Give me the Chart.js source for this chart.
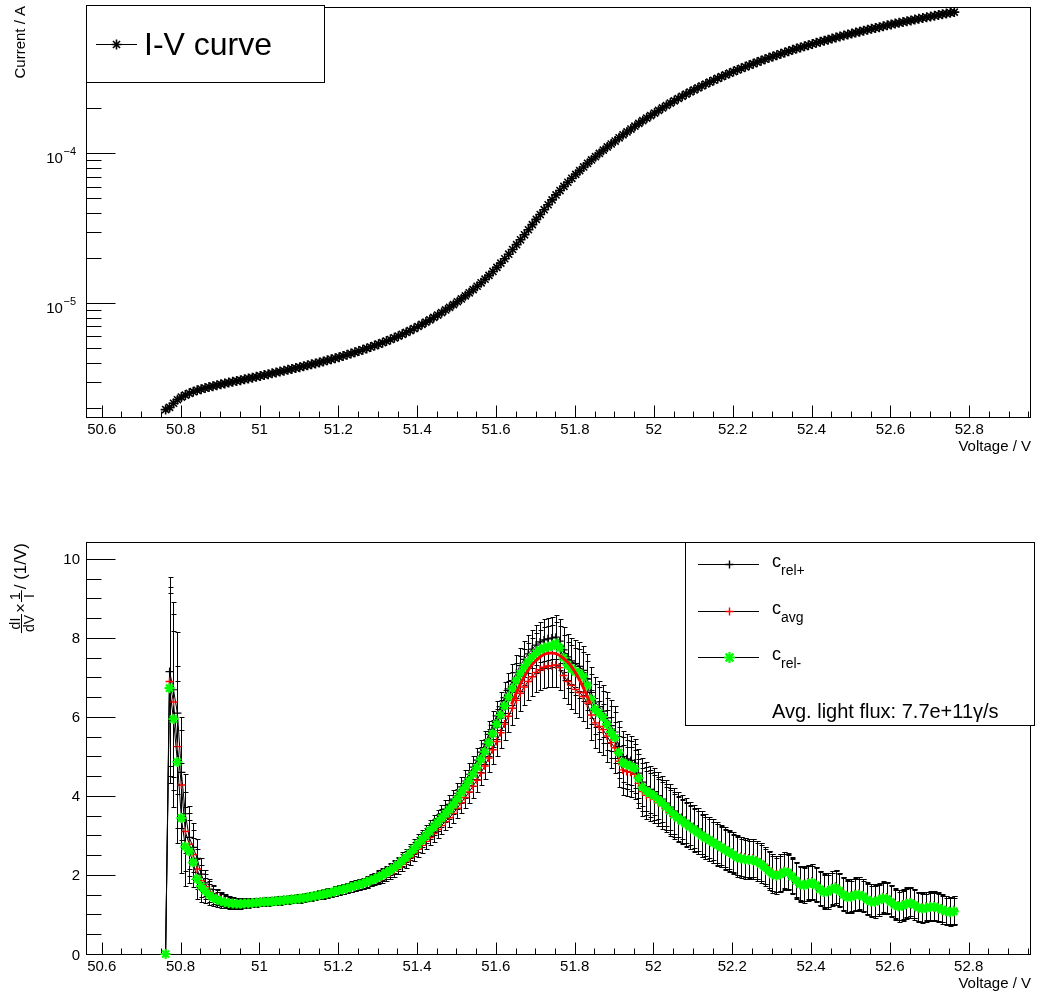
<!DOCTYPE html>
<html>
<head>
<meta charset="utf-8">
<script src="https://cdn.jsdelivr.net/npm/chart.js@4.4.1/dist/chart.umd.min.js"></script>
<style>
  html, body { margin: 0; padding: 0; background: #fff; }
  #wrap { position: relative; width: 1037px; height: 995px; }
  canvas { position: absolute; left: 0; }
  #ivChart { top: 0; }
  #cChart { top: 470px; }
</style>
</head>
<body>
<div id="wrap">
  <canvas id="ivChart" width="1037" height="470"></canvas>
  <canvas id="cChart" width="1037" height="525"></canvas>
</div>
<script>
// ---- measured scan: bias voltage (V) ----
const voltage = [
  50.762,50.772,50.782,50.792,50.802,50.812,50.822,50.832,50.842,50.852,
  50.862,50.872,50.882,50.892,50.902,50.912,50.922,50.932,50.942,50.952,
  50.962,50.972,50.982,50.992,51.002,51.012,51.022,51.032,51.042,51.052,
  51.062,51.072,51.082,51.092,51.102,51.112,51.122,51.132,51.142,51.152,
  51.162,51.172,51.182,51.192,51.202,51.212,51.222,51.232,51.242,51.252,
  51.262,51.272,51.282,51.292,51.302,51.312,51.322,51.332,51.342,51.352,
  51.362,51.372,51.382,51.392,51.402,51.412,51.422,51.432,51.442,51.452,
  51.462,51.472,51.482,51.492,51.502,51.512,51.522,51.532,51.542,51.552,
  51.562,51.572,51.582,51.592,51.602,51.612,51.622,51.632,51.642,51.652,
  51.662,51.672,51.682,51.692,51.702,51.712,51.722,51.732,51.742,51.752,
  51.762,51.772,51.782,51.792,51.802,51.812,51.822,51.832,51.842,51.852,
  51.862,51.872,51.882,51.892,51.902,51.912,51.922,51.932,51.942,51.952,
  51.962,51.972,51.982,51.992,52.002,52.012,52.022,52.032,52.042,52.052,
  52.062,52.072,52.082,52.092,52.102,52.112,52.122,52.132,52.142,52.152,
  52.162,52.172,52.182,52.192,52.202,52.212,52.222,52.232,52.242,52.252,
  52.262,52.272,52.282,52.292,52.302,52.312,52.322,52.332,52.342,52.352,
  52.362,52.372,52.382,52.392,52.402,52.412,52.422,52.432,52.442,52.452,
  52.462,52.472,52.482,52.492,52.502,52.512,52.522,52.532,52.542,52.552,
  52.562,52.572,52.582,52.592,52.602,52.612,52.622,52.632,52.642,52.652,
  52.662,52.672,52.682,52.692,52.702,52.712,52.722,52.732,52.742,52.752,
  52.762
];

// ---- current (µA) ----
const currentMicroA = [
  1.950,2.017,2.149,2.268,2.364,2.438,2.504,2.566,2.621,2.669,
  2.713,2.756,2.796,2.836,2.875,2.913,2.951,2.990,3.028,3.066,
  3.106,3.146,3.186,3.228,3.270,3.314,3.357,3.402,3.448,3.495,
  3.542,3.591,3.641,3.691,3.744,3.797,3.851,3.908,3.965,4.024,
  4.088,4.155,4.223,4.295,4.366,4.447,4.528,4.613,4.701,4.792,
  4.891,4.994,5.101,5.212,5.327,5.454,5.586,5.725,5.873,6.027,
  6.196,6.377,6.567,6.772,6.990,7.226,7.477,7.742,8.029,8.335,
  8.661,9.011,9.384,9.786,10.22,10.68,11.19,11.73,12.32,12.97,
  13.68,14.46,15.33,16.28,17.34,18.50,19.79,21.23,22.81,24.58,
  26.48,28.59,30.90,33.45,36.24,39.04,42.07,45.37,48.93,52.79,
  56.43,60.20,64.10,68.14,72.38,76.65,81.13,85.74,90.36,94.93,
  99.88,105.0,110.3,115.4,120.8,126.9,132.9,138.9,145.2,151.7,
  158.5,165.2,171.9,178.7,185.7,193.2,200.9,208.5,216.4,224.2,
  232.2,240.2,248.4,256.6,264.9,273.2,281.7,290.2,298.7,307.4,
  316.1,324.9,333.7,342.4,351.3,360.2,369.0,378.0,387.2,396.5,
  406.0,415.4,424.8,434.1,443.1,452.1,461.2,470.8,480.6,490.3,
  499.8,508.9,517.8,527.1,536.5,546.1,555.5,564.4,573.5,582.8,
  592.8,602.3,611.5,620.7,629.8,639.0,648.6,658.4,667.9,676.9,
  686.0,695.2,704.9,714.8,724.6,734.0,743.0,752.0,761.4,771.2,
  781.1,790.5,799.7,809.1,818.7,828.3,838.3,847.8,857.2,866.6,
  875.8
];

// ---- dI/dV x 1/I (1/V) ----
const cRelPlus = [
  0,7.15,6.69,6.10,4.60,3.55,2.95,2.70,2.42,2.02,
  1.80,1.64,1.53,1.46,1.40,1.36,1.33,1.31,1.30,1.29,
  1.30,1.30,1.31,1.32,1.33,1.34,1.34,1.35,1.36,1.37,
  1.38,1.39,1.40,1.41,1.42,1.44,1.45,1.47,1.49,1.51,
  1.53,1.55,1.57,1.60,1.63,1.65,1.68,1.71,1.74,1.77,
  1.80,1.84,1.88,1.92,1.97,2.03,2.09,2.15,2.22,2.30,
  2.40,2.50,2.60,2.72,2.84,2.96,3.07,3.19,3.31,3.43,
  3.55,3.67,3.79,3.92,4.07,4.23,4.38,4.55,4.73,4.91,
  5.11,5.32,5.56,5.79,6.03,6.26,6.49,6.71,6.92,7.12,
  7.30,7.46,7.60,7.72,7.82,7.90,7.95,7.98,8.00,8.02,
  7.92,7.70,7.52,7.42,7.35,7.28,7.18,6.96,6.62,6.38,
  6.26,6.15,5.98,5.78,5.62,5.25,5.00,4.94,4.90,4.83,
  4.58,4.35,4.24,4.17,4.11,4.01,3.92,3.82,3.72,3.62,
  3.53,3.46,3.38,3.30,3.23,3.16,3.08,3.01,2.95,2.89,
  2.83,2.76,2.70,2.64,2.58,2.50,2.47,2.45,2.43,2.42,
  2.38,2.32,2.24,2.14,2.06,2.02,2.06,2.12,2.10,2.00,
  1.89,1.80,1.78,1.82,1.84,1.78,1.68,1.61,1.62,1.68,
  1.71,1.64,1.54,1.48,1.49,1.53,1.54,1.50,1.42,1.37,
  1.36,1.40,1.45,1.44,1.36,1.28,1.24,1.26,1.31,1.33,
  1.28,1.21,1.19,1.21,1.23,1.23,1.20,1.16,1.12,1.10,
  1.12
];

const cAvg = [
  0,6.90,6.38,5.25,4.28,3.10,2.78,2.52,2.15,1.85,
  1.70,1.58,1.49,1.43,1.38,1.34,1.31,1.30,1.29,1.28,
  1.29,1.29,1.30,1.31,1.32,1.33,1.33,1.34,1.35,1.36,
  1.37,1.38,1.39,1.40,1.41,1.43,1.44,1.46,1.48,1.50,
  1.52,1.54,1.56,1.59,1.62,1.64,1.67,1.70,1.73,1.76,
  1.78,1.81,1.85,1.88,1.92,1.96,2.01,2.06,2.12,2.19,
  2.27,2.35,2.44,2.54,2.65,2.75,2.85,2.95,3.05,3.15,
  3.25,3.35,3.45,3.56,3.69,3.83,3.96,4.10,4.25,4.40,
  4.58,4.76,4.96,5.17,5.38,5.60,5.82,6.02,6.22,6.42,
  6.60,6.76,6.90,7.02,7.13,7.20,7.26,7.29,7.30,7.32,
  7.25,7.05,6.90,6.80,6.70,6.62,6.52,6.35,6.05,5.85,
  5.76,5.68,5.52,5.35,5.22,4.88,4.66,4.62,4.60,4.55,
  4.32,4.11,4.02,3.97,3.92,3.83,3.76,3.66,3.57,3.48,
  3.40,3.34,3.27,3.20,3.13,3.07,2.99,2.94,2.88,2.83,
  2.77,2.72,2.66,2.61,2.55,2.49,2.46,2.44,2.42,2.42,
  2.38,2.32,2.24,2.15,2.07,2.03,2.06,2.11,2.09,1.99,
  1.88,1.79,1.77,1.81,1.83,1.77,1.67,1.60,1.61,1.67,
  1.70,1.63,1.53,1.47,1.48,1.52,1.53,1.49,1.41,1.36,
  1.35,1.39,1.44,1.43,1.35,1.27,1.23,1.25,1.30,1.32,
  1.27,1.20,1.18,1.20,1.22,1.22,1.19,1.15,1.11,1.09,
  1.11
];

const cRelMinus = [
  0,6.73,5.95,4.86,3.44,2.72,2.60,2.32,1.90,1.72,
  1.60,1.50,1.43,1.38,1.34,1.31,1.29,1.28,1.27,1.27,
  1.28,1.28,1.29,1.30,1.31,1.32,1.32,1.33,1.34,1.35,
  1.36,1.37,1.38,1.39,1.40,1.42,1.43,1.45,1.47,1.49,
  1.51,1.53,1.55,1.58,1.61,1.63,1.66,1.69,1.72,1.75,
  1.78,1.82,1.86,1.90,1.95,2.00,2.06,2.12,2.19,2.27,
  2.36,2.45,2.55,2.66,2.78,2.89,3.00,3.11,3.22,3.33,
  3.44,3.55,3.66,3.78,3.92,4.08,4.22,4.38,4.55,4.72,
  4.92,5.12,5.35,5.58,5.82,6.05,6.28,6.50,6.72,6.92,
  7.10,7.26,7.40,7.52,7.62,7.70,7.75,7.78,7.80,7.86,
  7.75,7.50,7.32,7.22,7.15,7.10,7.02,6.80,6.45,6.20,
  6.10,6.00,5.82,5.62,5.48,5.10,4.85,4.80,4.76,4.70,
  4.45,4.22,4.12,4.06,4.00,3.90,3.82,3.72,3.62,3.52,
  3.44,3.37,3.30,3.22,3.15,3.08,3.00,2.94,2.88,2.82,
  2.76,2.70,2.64,2.58,2.52,2.45,2.42,2.40,2.38,2.38,
  2.34,2.28,2.20,2.10,2.02,1.98,2.02,2.08,2.06,1.96,
  1.85,1.76,1.74,1.78,1.80,1.74,1.64,1.57,1.58,1.64,
  1.67,1.60,1.50,1.44,1.45,1.49,1.50,1.46,1.38,1.33,
  1.32,1.36,1.41,1.40,1.32,1.24,1.20,1.22,1.27,1.29,
  1.24,1.17,1.15,1.17,1.19,1.19,1.16,1.12,1.08,1.06,
  1.08
];

// statistical uncertainty of c (1/V), same for the three estimates
const cError = [
  0,2.40,2.22,2.05,1.40,1.00,0.80,0.62,0.50,0.40,
  0.32,0.26,0.22,0.19,0.17,0.15,0.14,0.13,0.12,0.12,
  0.11,0.11,0.10,0.10,0.10,0.10,0.10,0.10,0.10,0.10,
  0.10,0.10,0.10,0.10,0.10,0.10,0.10,0.10,0.10,0.11,
  0.11,0.11,0.11,0.12,0.12,0.12,0.12,0.13,0.13,0.13,
  0.13,0.14,0.14,0.14,0.15,0.15,0.15,0.16,0.16,0.16,
  0.17,0.17,0.18,0.18,0.19,0.19,0.20,0.20,0.21,0.21,
  0.22,0.22,0.23,0.24,0.25,0.26,0.27,0.28,0.29,0.30,
  0.31,0.32,0.34,0.35,0.37,0.38,0.40,0.41,0.42,0.44,
  0.45,0.46,0.48,0.49,0.50,0.51,0.52,0.53,0.54,0.55,
  0.56,0.57,0.58,0.59,0.60,0.61,0.62,0.63,0.64,0.64,
  0.65,0.65,0.65,0.65,0.65,0.64,0.64,0.63,0.63,0.62,
  0.62,0.61,0.61,0.60,0.60,0.59,0.59,0.58,0.58,0.57,
  0.57,0.56,0.56,0.55,0.55,0.54,0.54,0.53,0.53,0.52,
  0.52,0.51,0.51,0.50,0.50,0.50,0.49,0.49,0.49,0.48,
  0.48,0.48,0.47,0.47,0.47,0.46,0.46,0.46,0.45,0.45,
  0.45,0.44,0.44,0.44,0.44,0.43,0.43,0.43,0.43,0.42,
  0.42,0.42,0.42,0.41,0.41,0.41,0.41,0.40,0.40,0.40,
  0.40,0.39,0.39,0.39,0.39,0.38,0.38,0.38,0.38,0.37,
  0.37,0.37,0.37,0.36,0.36,0.36,0.36,0.35,0.35,0.35,
  0.35
];

// ---- peak fit of c_avg ----
const fitVoltage = [51.64,51.65,51.66,51.67,51.68,51.69,51.70,51.71,51.72,51.73,51.74,
                    51.75,51.76,51.77,51.78,51.79,51.80,51.81,51.82,51.83,51.84];
const fitValue   = [6.32,6.57,6.79,6.98,7.15,7.30,7.41,7.50,7.57,7.61,7.62,
                    7.61,7.57,7.50,7.41,7.30,7.15,6.98,6.79,6.57,6.32];

// ---- axes ----
const xTickValues = [50.6,50.8,51.0,51.2,51.4,51.6,51.8,52.0,52.2,52.4,52.6,52.8];
const xTickLabels = ['50.6','50.8','51','51.2','51.4','51.6','51.8','52','52.2','52.4','52.6','52.8'];
const cTickValues = [0,2,4,6,8,10];
const cTickLabels = ['0','2','4','6','8','10'];
const logTickExponents = [-5,-4];
const logTickLabels = ['\u22125','\u22124'];

const X_MIN = 50.56, X_MAX = 52.955;
const I_MIN = 1.74e-6, I_MAX = 9.53e-4;
const C_MIN = 0, C_MAX = 10.43;

const FONT = '"Liberation Sans", Arial, Helvetica, sans-serif';

function pts(xs, ys, scale) {
  return xs.map((x, i) => ({ x: x, y: ys[i] * (scale || 1) }));
}

// ---------- helpers for the frame ----------
function crisp(v) { return Math.round(v) + 0.5; }

function drawFrame(ctx, a) {
  ctx.strokeStyle = '#000';
  ctx.lineWidth = 1;
  ctx.strokeRect(crisp(a.left), crisp(a.top), Math.round(a.right) - Math.round(a.left), Math.round(a.bottom) - Math.round(a.top));
}

function drawXAxis(chart, titleBaseline) {
  const ctx = chart.ctx, a = chart.chartArea, xs = chart.scales.x;
  const yb = Math.round(a.bottom) + 0.5;
  ctx.beginPath();
  for (let k = 0; k < 60; k++) {
    const v = 50.55 + 0.05 * k;
    if (v < X_MIN || v > X_MAX) continue;
    const px = crisp(xs.getPixelForValue(v));
    const major = Math.abs(((v - 50.6) / 0.2) - Math.round((v - 50.6) / 0.2)) < 1e-6;
    ctx.moveTo(px, yb);
    ctx.lineTo(px, yb - (major ? 12 : 6));
  }
  ctx.stroke();
  ctx.fillStyle = '#000';
  ctx.font = '15px ' + FONT;
  ctx.textAlign = 'center';
  ctx.textBaseline = 'alphabetic';
  xTickValues.forEach((v, i) => {
    ctx.fillText(xTickLabels[i], xs.getPixelForValue(v), Math.round(a.bottom) + 17);
  });
  ctx.textAlign = 'right';
  ctx.fillText('Voltage / V', Math.round(a.right) + 1, titleBaseline);
}

function drawStar(ctx, x, y, r) {
  const d = r * Math.SQRT1_2;
  ctx.beginPath();
  ctx.moveTo(x - r, y); ctx.lineTo(x + r, y);
  ctx.moveTo(x, y - r); ctx.lineTo(x, y + r);
  ctx.moveTo(x - d, y - d); ctx.lineTo(x + d, y + d);
  ctx.moveTo(x - d, y + d); ctx.lineTo(x + d, y - d);
  ctx.stroke();
}
function drawPlus(ctx, x, y, r) {
  ctx.beginPath();
  ctx.moveTo(x - r, y); ctx.lineTo(x + r, y);
  ctx.moveTo(x, y - r); ctx.lineTo(x, y + r);
  ctx.stroke();
}

// ---------- I-V chart decorations ----------
const ivDecor = {
  id: 'ivDecor',
  beforeDatasetsDraw(chart) {
    const ctx = chart.ctx, a = chart.chartArea, ys = chart.scales.y;
    ctx.save();
    drawFrame(ctx, a);
    drawXAxis(chart, 451);
    const xl = Math.round(a.left) + 0.5;
    ctx.beginPath();
    for (let d = -7; d <= -3; d++) {
      for (let k = 1; k <= 9; k++) {
        const v = k * Math.pow(10, d);
        if (v < I_MIN || v > I_MAX) continue;
        const py = crisp(ys.getPixelForValue(v));
        ctx.moveTo(xl, py);
        ctx.lineTo(xl + (k === 1 ? 29 : 15), py);
      }
    }
    ctx.stroke();
    ctx.fillStyle = '#000';
    logTickExponents.forEach((e, i) => {
      const py = ys.getPixelForValue(Math.pow(10, e));
      ctx.font = '11px ' + FONT;
      const ws = ctx.measureText(logTickLabels[i]).width;
      ctx.textAlign = 'left';
      ctx.fillText(logTickLabels[i], 76 - ws, py + 2);
      ctx.font = '15px ' + FONT;
      ctx.textAlign = 'right';
      ctx.fillText('10', 76 - ws - 0.5, py + 9.5);
    });
    ctx.save();
    ctx.translate(25, 6);
    ctx.rotate(-Math.PI / 2);
    ctx.font = '15px ' + FONT;
    ctx.textAlign = 'right';
    ctx.fillText('Current / A', 0, 0);
    ctx.restore();
    ctx.restore();
  },
  afterDraw(chart) {
    const ctx = chart.ctx;
    ctx.save();
    ctx.fillStyle = '#fff';
    ctx.fillRect(86.5, 5.5, 238, 77);
    ctx.strokeStyle = '#000';
    ctx.lineWidth = 1;
    ctx.strokeRect(86.5, 5.5, 238, 77);
    ctx.beginPath();
    ctx.moveTo(96, 44.5); ctx.lineTo(137, 44.5);
    ctx.stroke();
    ctx.lineWidth = 1.6;
    drawStar(ctx, 116.5, 44.5, 5);
    ctx.fillStyle = '#000';
    ctx.font = '32px ' + FONT;
    ctx.textAlign = 'left';
    ctx.fillText('I-V curve', 144, 55);
    ctx.restore();
  }
};

// ---------- c chart decorations ----------
function drawCTitle(ctx) {
  const F = 17, S = 14;
  const main = F + 'px ' + FONT, small = S + 'px ' + FONT;
  ctx.save();
  ctx.font = small;
  const f1 = Math.max(ctx.measureText('dI').width, ctx.measureText('dV').width) + 2;
  const f2 = Math.max(ctx.measureText('1').width, ctx.measureText('I').width) + 4;
  ctx.font = main;
  const wx = ctx.measureText('\u00d7').width;
  const wt = ctx.measureText('/ (1/V)').width;
  const gap = 1;
  const total = f1 + gap + wx + gap + f2 + gap + wt;
  const X0 = 26, yEnd = 73;
  ctx.translate(X0, yEnd + total);
  ctx.rotate(-Math.PI / 2);
  ctx.fillStyle = '#000';
  ctx.strokeStyle = '#000';
  ctx.lineWidth = 1;
  const bar = -4.5;
  let x = 0;
  ctx.font = small; ctx.textAlign = 'center';
  ctx.fillText('dI', x + f1 / 2, bar - 2);
  ctx.fillText('dV', x + f1 / 2, bar + 2 + S * 0.72);
  ctx.beginPath(); ctx.moveTo(x, bar); ctx.lineTo(x + f1, bar); ctx.stroke();
  x += f1 + gap;
  ctx.font = main; ctx.textAlign = 'left';
  ctx.fillText('\u00d7', x, 0);
  x += wx + gap;
  ctx.font = small; ctx.textAlign = 'center';
  ctx.fillText('1', x + f2 / 2, bar - 2);
  ctx.fillText('I', x + f2 / 2, bar + 2 + S * 0.72);
  ctx.beginPath(); ctx.moveTo(x, bar); ctx.lineTo(x + f2, bar); ctx.stroke();
  x += f2 + gap;
  ctx.font = main; ctx.textAlign = 'left';
  ctx.fillText('/ (1/V)', x, 0);
  ctx.restore();
}

const cDecor = {
  id: 'cDecor',
  beforeDatasetsDraw(chart) {
    const ctx = chart.ctx, a = chart.chartArea, xs = chart.scales.x, ys = chart.scales.y;
    ctx.save();
    drawFrame(ctx, a);
    drawXAxis(chart, 518);
    const xl = Math.round(a.left) + 0.5;
    ctx.beginPath();
    for (let k = 0; k <= 20; k++) {
      const v = 0.5 * k;
      if (v > C_MAX) continue;
      const py = crisp(ys.getPixelForValue(v));
      ctx.moveTo(xl, py);
      ctx.lineTo(xl + (k % 4 === 0 ? 29 : 15), py);
    }
    ctx.stroke();
    ctx.fillStyle = '#000';
    ctx.font = '15px ' + FONT;
    ctx.textAlign = 'right';
    cTickValues.forEach((v, i) => {
      ctx.fillText(cTickLabels[i], 80, ys.getPixelForValue(v) + 5.5);
    });
    drawCTitle(ctx);

    // error bars of the three estimates
    ctx.strokeStyle = '#000';
    ctx.lineWidth = 1;
    ctx.beginPath();
    chart.data.datasets.forEach(ds => {
      if (!ds.errors) return;
      ds.data.forEach((p, i) => {
        const e = ds.errors[i];
        if (!e) return;
        const px = crisp(xs.getPixelForValue(p.x));
        const y1 = crisp(ys.getPixelForValue(p.y + e));
        const y2 = crisp(ys.getPixelForValue(p.y - e));
        ctx.moveTo(px, y1); ctx.lineTo(px, y2);
        ctx.moveTo(px - 2, y1); ctx.lineTo(px + 3, y1);
        ctx.moveTo(px - 2, y2); ctx.lineTo(px + 3, y2);
      });
    });
    ctx.stroke();
    ctx.restore();
  },
  afterDraw(chart) {
    const ctx = chart.ctx;
    ctx.save();
    ctx.fillStyle = '#fff';
    ctx.fillRect(685.5, 72.5, 349, 183);
    ctx.strokeStyle = '#000';
    ctx.lineWidth = 1;
    ctx.strokeRect(685.5, 72.5, 349, 183);
    const rows = [
      { y: 94.5, sub: 'rel+', color: '#000', mark: 'plus' },
      { y: 141.5, sub: 'avg', color: '#ff0000', mark: 'plus' },
      { y: 187.5, sub: 'rel-', color: '#00ff00', mark: 'star' }
    ];
    rows.forEach(r => {
      ctx.strokeStyle = '#000';
      ctx.lineWidth = 1;
      ctx.beginPath();
      ctx.moveTo(698, r.y); ctx.lineTo(759, r.y);
      ctx.stroke();
      ctx.strokeStyle = r.color;
      if (r.mark === 'plus') { ctx.lineWidth = 1.4; drawPlus(ctx, 729.5, r.y, 4); }
      else { ctx.lineWidth = 2.2; drawStar(ctx, 729.5, r.y, 5.5); }
      ctx.fillStyle = '#000';
      ctx.textAlign = 'left';
      ctx.font = '18px ' + FONT;
      ctx.fillText('c', 772, r.y + 2);
      const wc = ctx.measureText('c').width;
      ctx.font = '14px ' + FONT;
      ctx.fillText(r.sub, 772 + wc, r.y + 10);
    });
    ctx.font = '20px ' + FONT;
    ctx.fillText('Avg. light flux: 7.7e+11\u03b3/s', 772, 248);
    ctx.restore();
  }
};

const baseOptions = (padding, yScale) => ({
  responsive: false,
  animation: false,
  devicePixelRatio: 1,
  events: [],
  layout: { padding: padding },
  plugins: { legend: { display: false }, tooltip: { enabled: false } },
  scales: {
    x: { type: 'linear', display: false, min: X_MIN, max: X_MAX },
    y: yScale
  }
});

// ---------- top: I-V curve ----------
new Chart(document.getElementById('ivChart'), {
  type: 'scatter',
  data: {
    datasets: [{
      label: 'I-V curve',
      data: pts(voltage, currentMicroA, 1e-6),
      showLine: true,
      borderColor: '#000',
      borderWidth: 1,
      pointStyle: 'star',
      pointRadius: 5,
      pointBorderWidth: 1.6,
      pointBorderColor: '#000',
      pointBackgroundColor: '#000',
      clip: 6
    }]
  },
  options: baseOptions({ left: 86, right: 3, top: 5, bottom: 53 },
    { type: 'logarithmic', display: false, min: I_MIN, max: I_MAX }),
  plugins: [ivDecor]
});

// ---------- bottom: relative derivative ----------
new Chart(document.getElementById('cChart'), {
  type: 'scatter',
  data: {
    datasets: [
      {
        label: 'c_fit',
        data: pts(fitVoltage, fitValue),
        showLine: true,
        borderColor: '#ff0000',
        borderWidth: 3,
        pointRadius: 0,
        cubicInterpolationMode: 'monotone',
        order: 0
      },
      {
        label: 'c_rel-',
        data: pts(voltage, cRelMinus),
        errors: cError,
        showLine: true,
        borderColor: '#000',
        borderWidth: 1,
        pointStyle: 'star',
        pointRadius: 5,
        pointBorderWidth: 2.2,
        pointBorderColor: '#00ff00',
        pointBackgroundColor: '#00ff00',
        clip: 8,
        order: 1
      },
      {
        label: 'c_avg',
        data: pts(voltage, cAvg),
        errors: cError,
        showLine: true,
        borderColor: '#000',
        borderWidth: 1,
        pointStyle: 'cross',
        pointRadius: 4,
        pointBorderWidth: 1.4,
        pointBorderColor: '#ff0000',
        clip: 8,
        order: 2
      },
      {
        label: 'c_rel+',
        data: pts(voltage, cRelPlus),
        errors: cError,
        showLine: true,
        borderColor: '#000',
        borderWidth: 1,
        pointStyle: 'cross',
        pointRadius: 4,
        pointBorderWidth: 1.2,
        pointBorderColor: '#000',
        clip: 8,
        order: 3
      }
    ]
  },
  options: baseOptions({ left: 86, right: 3, top: 72, bottom: 41 },
    { type: 'linear', display: false, min: C_MIN, max: C_MAX }),
  plugins: [cDecor]
});
</script>
</body>
</html>
